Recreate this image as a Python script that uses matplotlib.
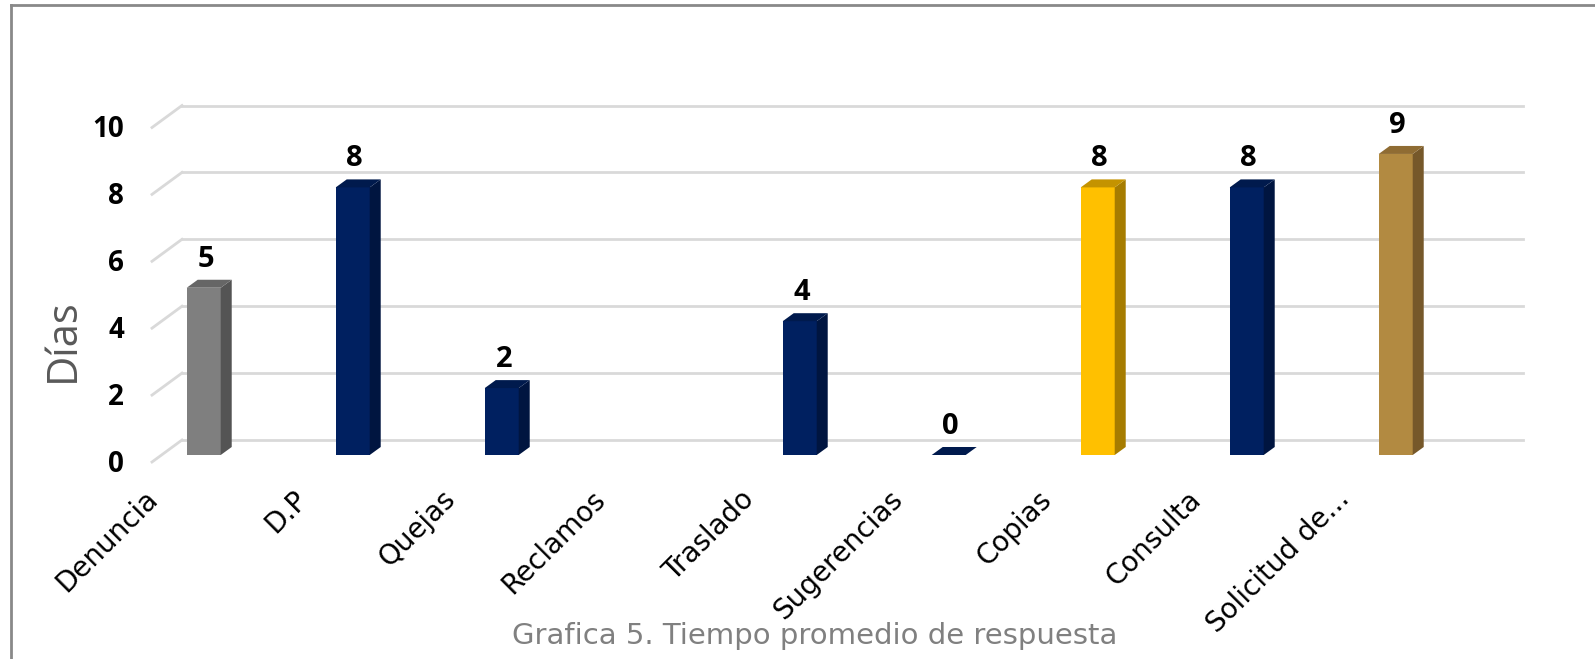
import numpy as np
import matplotlib
matplotlib.use('Agg')
import matplotlib.pyplot as plt
from matplotlib.lines import Line2D
from matplotlib.patches import Polygon
from matplotlib.transforms import ScaledTranslation

categorias = ['Denuncia', 'D.P', 'Quejas', 'Reclamos', 'Traslado',
              'Sugerencias', 'Copias', 'Consulta', 'Solicitud de...']
dias = [5, 8, 2, None, 4, 0, 8, 8, 9]
y_ticks = [0, 2, 4, 6, 8, 10]

# front / side / top colours of each bar
col_front = ['#7f7f7f', '#002060', '#002060', '#002060', '#002060',
             '#002060', '#ffc000', '#002060', '#b28a41']
col_side = ['#545454', '#001540', '#001540', '#001540', '#001540',
            '#001540', '#a67c00', '#001540', '#76582a']
col_top = ['#666666', '#001a4d', '#001a4d', '#001a4d', '#001a4d',
           '#001a4d', '#c49300', '#001a4d', '#8f6c33']

DPI = 100
fig = plt.figure(figsize=(15.95, 6.59), dpi=DPI)
W, H = 1595, 659

# axes = plane of the bar front faces (pixel layout)
x0 = -0.28
ax_left, ax_w = 162, 1341
ax_bot, ax_h = 204, 334.5
ax = fig.add_axes([ax_left / W, ax_bot / H, ax_w / W, ax_h / H])
ax.set_xlim(x0, x0 + 9)
ax.set_ylim(0, 10)
ax.axis('off')

sx = ax_w / 9.0      # px per category
sy = ax_h / 10.0     # px per day


def shifted(dx, dy):
    return ax.transData + ScaledTranslation(dx / DPI, dy / DPI, fig.dpi_scale_trans)


back = shifted(20, 15)

# gridlines on the back wall + floor diagonal
for v in y_ticks:
    ax.plot([x0, x0 + 9], [v, v], color='#d9d9d9', lw=2, transform=back, clip_on=False, zorder=1)
    ax.plot([x0 - 30 / sx, x0], [v - 22 / sy, v], color='#d9d9d9', lw=2,
            transform=back, clip_on=False, zorder=1)
    ax.text(x0, v, str(v), transform=shifted(-38, -9), ha='right', va='center',
            fontsize=20, fontweight='bold', family='Open Sans', color='black')

# 3d-ish bars
bw = 34 / sx
ddx, ddy = 11 / sx, 8 / sy
for i, v in enumerate(dias):
    if v is None:
        continue
    l, r = i - bw / 2, i + bw / 2
    if v > 0:
        ax.bar(i, v, width=bw, color=col_front[i], zorder=3)
        side = Polygon([(r, 0), (r + ddx, ddy), (r + ddx, v + ddy), (r, v)],
                       closed=True, facecolor=col_side[i], edgecolor='none', zorder=3)
        ax.add_patch(side)
    top = Polygon([(l, v), (r, v), (r + ddx, v + ddy), (l + ddx, v + ddy)],
                  closed=True, facecolor=col_top[i], edgecolor='none', zorder=3)
    ax.add_patch(top)
    ax.annotate(str(v), xy=(i, v), xytext=(2, 14), textcoords='offset pixels',
                ha='center', va='bottom', fontsize=21, fontweight='bold',
                family='Open Sans', color='black', annotation_clip=False)

# category labels
for i, c in enumerate(categorias):
    ax.annotate(c, xy=(i, 0), xytext=(-60, -30), textcoords='offset pixels',
                rotation=45, rotation_mode='anchor', ha='right', va='top',
                fontsize=20, family='DejaVu Sans', color='black', annotation_clip=False)

fig.text(63 / W, 1 - 340 / H, 'Días', rotation=90, ha='center', va='center',
         fontsize=30, family='Open Sans', color='#595959')
fig.text(815 / W, 1 - 636 / H, 'Grafica 5. Tiempo promedio de respuesta', ha='center',
         va='center', fontsize=21, family='DejaVu Sans', color='#808080')

# chart frame (left and top edges visible)
fig.add_artist(Line2D([11 / W, 11 / W], [0, 1 - 5 / H], color='#898989', lw=2))
fig.add_artist(Line2D([11 / W, 1], [1 - 5 / H, 1 - 5 / H], color='#898989', lw=2))

fig.savefig('out.png', dpi=DPI)
